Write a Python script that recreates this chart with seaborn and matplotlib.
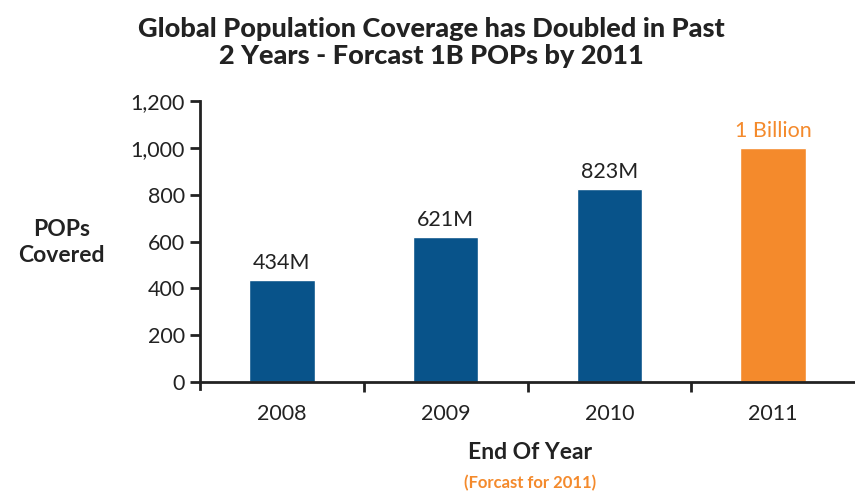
import seaborn as sns
import pandas as pd
import matplotlib.pyplot as plt

years = ['2008', '2009', '2010', '2011']
pops = [434, 621, 823, 1000]
bar_labels = ['434M', '621M', '823M', '1 Billion']
bar_colors = ['#08538a', '#08538a', '#08538a', '#f48a2c']
label_colors = ['#222222', '#222222', '#222222', '#f48a2c']
yticks = [0, 200, 400, 600, 800, 1000, 1200]

df = pd.DataFrame({'year': years, 'pops': pops})

sns.set_style('white')
plt.rcParams['font.family'] = ['Lato', 'DejaVu Sans']

fig = plt.figure(figsize=(8.55, 4.95), dpi=100)
ax = fig.add_axes([0.234, 0.228, 0.766, 0.568])

sns.barplot(x='year', y='pops', data=df, hue='year', palette=bar_colors,
            width=0.4, legend=False, ax=ax, saturation=1)

for i, (v, lab) in enumerate(zip(pops, bar_labels)):
    ax.text(i, v + 30, lab, ha='center', va='bottom', fontsize=15.5,
            color=label_colors[i])

ax.set_xlim(-0.5, 3.5)
ax.set_ylim(0, 1200)
ax.set_yticks(yticks)
ax.set_yticklabels([f'{t:,}' for t in yticks], fontsize=15.5, color='#222222')
ax.set_xticks([0.5, 1.5, 2.5])
ax.set_xticklabels([])
for i, y in enumerate(years):
    ax.text(i, -95, y, ha='center', va='top', fontsize=15.5, color='#222222')

ax.tick_params(axis='both', direction='out', length=7, width=2, color='#222222',
               bottom=True, left=True)
ax.tick_params(axis='y', pad=4)
for s in ['top', 'right']:
    ax.spines[s].set_visible(False)
ax.spines['left'].set_linewidth(2)
ax.spines['bottom'].set_linewidth(2)
ax.spines['left'].set_color('#222222')
ax.spines['bottom'].set_color('#222222')
ax.spines['left'].set_bounds(-30, 1200)

ax.set_xlabel('')
ax.set_ylabel('')
fig.text(0.072, 0.51, 'POPs\nCovered', ha='center', va='center', fontsize=16.5,
         fontweight='bold', color='#222222', linespacing=1.3)
fig.text(0.62, 0.085, 'End Of Year', ha='center', va='center', fontsize=16.5,
         fontweight='bold', color='#222222')
fig.text(0.62, 0.025, '(Forcast for 2011)', ha='center', va='center', fontsize=12,
         fontweight='bold', color='#f48a2c')

fig.text(0.505, 0.915, 'Global Population Coverage has Doubled in Past\n2 Years - Forcast 1B POPs by 2011',
         ha='center', va='center', fontsize=19.5, fontweight='black', color='#222222',
         linespacing=1.15)

fig.savefig('out.png', dpi=100)
